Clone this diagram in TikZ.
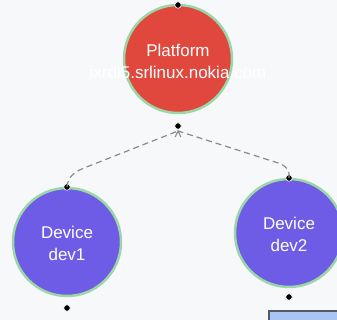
\documentclass[tikz,border=0pt]{standalone}
\usepackage{fontspec}
\setmainfont{Liberation Sans}
\definecolor{bgc}{HTML}{F7F8FA}
\definecolor{platred}{HTML}{E0473D}
\definecolor{devpurple}{HTML}{6E5CE6}
\definecolor{ringgreen}{HTML}{9AD6A6}
\definecolor{dashgray}{HTML}{8A8A8A}
\definecolor{boxblue}{HTML}{A9C5F3}
\definecolor{boxedge}{HTML}{555A60}
\begin{document}
\begin{tikzpicture}[x=1pt,y=-1pt,
  ringnode/.style={circle, draw=ringgreen, line width=2.5pt, minimum size=108pt, inner sep=0pt},
  platnode/.style={ringnode, fill=platred},
  devnode/.style={ringnode, fill=devpurple},
  lbl/.style={text=white, align=center, font=\fontsize{17}{22}\selectfont, inner sep=0pt},
  portdot/.style={circle, fill=black, draw=white, line width=0.6pt, minimum size=6.5pt, inner sep=0pt},
  link/.style={draw=dashgray, dashed, dash pattern=on 6pt off 4pt, line width=1.2pt}
]
\useasboundingbox (0,0) rectangle (337,320);
\fill[bgc] (0,0) rectangle (337,320);

% nodes
\node[platnode] (p) at (178,59) {};
\node[lbl] (plbl) at (178,61) {Platform\\ixrdl5.srlinux.nokia.com};
\node[devnode] (d1) at (67,242) {};
\node[lbl] (d1lbl) at (67,243) {Device\\dev1};
\node[devnode] (d2) at (289,233) {};
\node[lbl] (d2lbl) at (289,234) {Device\\dev2};

% box at bottom right
\node[draw=boxedge, fill=boxblue, line width=1.5pt, minimum width=90pt, minimum height=30pt, anchor=north west, inner sep=0pt] (box) at (268,310) {};

% ports
\node[portdot] (ptop) at (178,5) {};
\node[portdot] (pbot) at (178,126) {};
\node[portdot] (d1top) at (67,187) {};
\node[portdot] (d1bot) at (67,308) {};
\node[portdot] (d2top) at (289,178) {};
\node[portdot] (d2bot) at (289,297) {};

\coordinate (tip) at (178,131);

% connectors
\draw[link] (d1top.center) .. controls (68,178) and (72,173) .. (84,168) -- (tip);
\draw[link] (d2top.center) .. controls (290,170) and (286,165) .. (275,162) -- (tip);
\draw[dashgray, line width=1.1pt, line join=miter] (175.2,137) -- (tip) -- (180.8,137);
\end{tikzpicture}
\end{document}
